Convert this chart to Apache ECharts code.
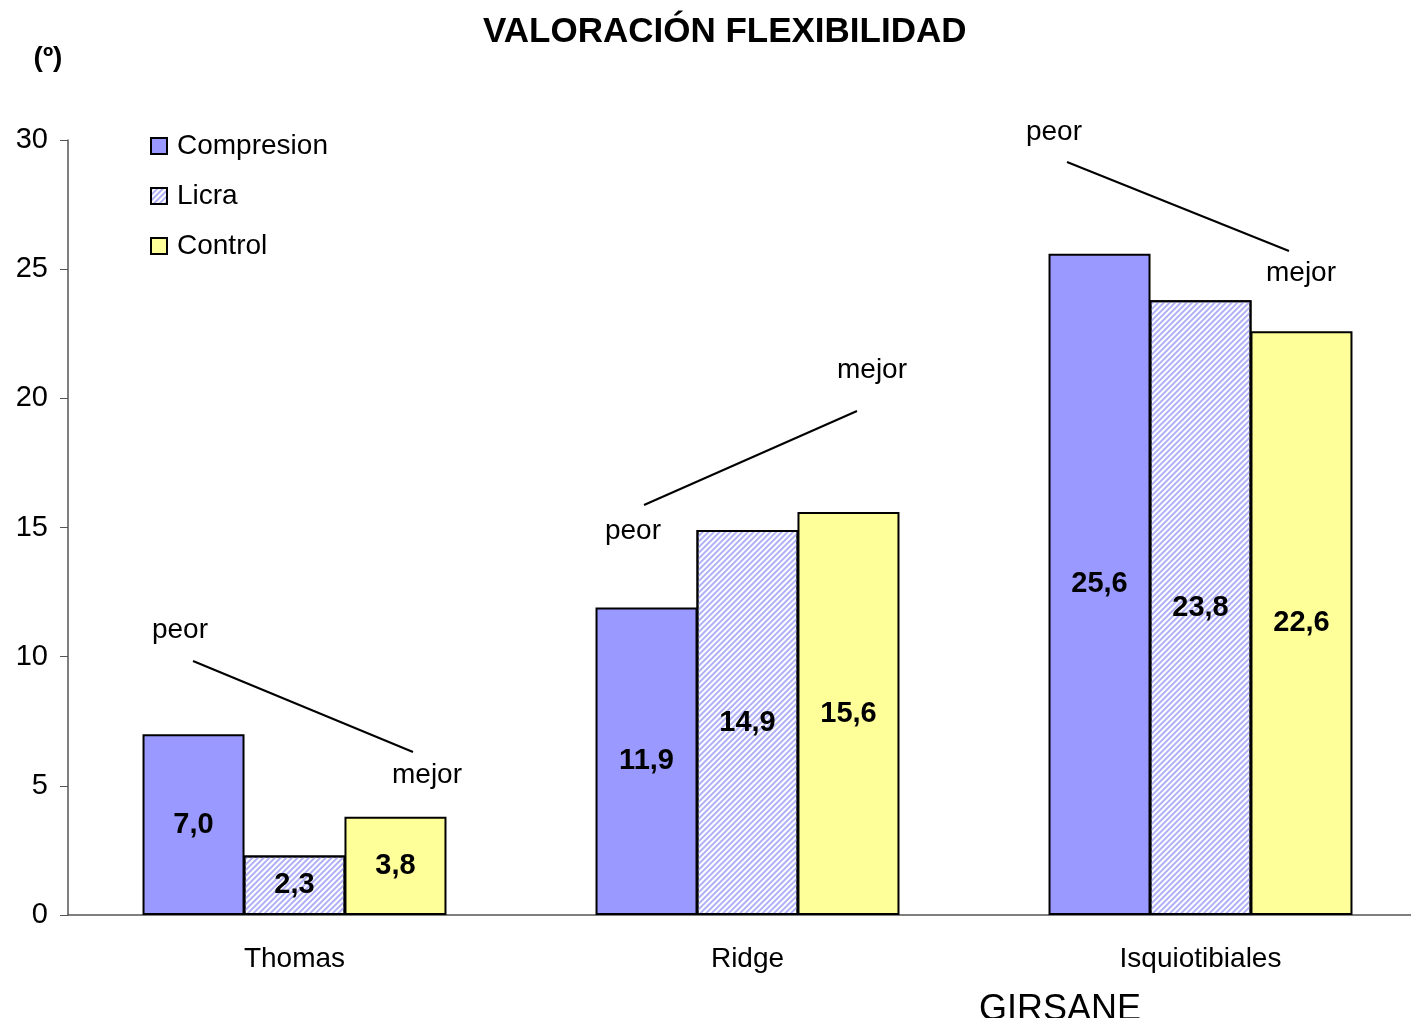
<!DOCTYPE html>
<html>
<head>
<meta charset="utf-8">
<script src="https://cdn.jsdelivr.net/npm/echarts@6/dist/echarts.min.js"></script>
<style>
  html, body { margin: 0; padding: 0; background: #fff; }
  #chart { width: 1411px; height: 1018px; }
</style>
</head>
<body>
<div id="chart"></div>
<script>
const categories = ['Thomas', 'Ridge', 'Isquiotibiales']
const compresion = [7.0, 11.9, 25.6]
const licra = [2.3, 14.9, 23.8]
const control = [3.8, 15.6, 22.6]
const yTicks = { min: 0, max: 30, interval: 5 }

const FONT = '"Liberation Sans", Arial, sans-serif'
const chart = echarts.init(document.getElementById('chart'))

function fmt(p) {
  return p.value.toFixed(1).replace('.', ',')
}

const label = {
  show: true, position: 'inside', formatter: fmt,
  color: '#000', fontFamily: FONT, fontWeight: 'bold', fontSize: 29
}

// "peor"/"mejor" annotations: text + connecting line
function note(text, x, y) {
  return { type: 'text', x: x, y: y, style: { text: text, font: '28px ' + FONT, fill: '#000', textAlign: 'center', textVerticalAlign: 'middle' } }
}
function seg(x1, y1, x2, y2) {
  return { type: 'line', shape: { x1: x1, y1: y1, x2: x2, y2: y2 }, style: { stroke: '#000', lineWidth: 2 } }
}

chart.setOption({
  animation: false,
  textStyle: { fontFamily: FONT },
  title: {
    text: 'VALORACIÓN FLEXIBILIDAD', left: 478, top: 10,
    textStyle: { fontSize: 35, fontWeight: 'bold', color: '#000', fontFamily: FONT }
  },
  legend: {
    orient: 'vertical', left: 145, top: 127, itemGap: 22,
    itemWidth: 16, itemHeight: 16, icon: 'rect',
    textStyle: { fontSize: 28, color: '#000', fontFamily: FONT, padding: [0, 0, 0, 5] },
    data: ['Compresion', 'Licra', 'Control']
  },
  grid: { left: 68, top: 140, bottom: 103, width: 1359, outerBoundsMode: 'none' },
  xAxis: {
    type: 'category', data: categories,
    axisLine: { lineStyle: { color: '#555', width: 1.5 } },
    axisTick: { length: 8, lineStyle: { color: '#555' } },
    axisLabel: { fontSize: 28, color: '#000', margin: 30, fontFamily: FONT }
  },
  yAxis: {
    type: 'value', min: yTicks.min, max: yTicks.max, interval: yTicks.interval,
    axisLine: { show: true, lineStyle: { color: '#555', width: 1.5 } },
    axisTick: { show: true, length: 8, lineStyle: { color: '#555' } },
    splitLine: { show: false },
    axisLabel: { fontSize: 29, color: '#000', margin: 20, fontFamily: FONT }
  },
  series: [
    {
      name: 'Compresion', type: 'bar', data: compresion, barWidth: 102, barGap: '-1%',
      itemStyle: { color: '#9999FF', borderColor: '#000', borderWidth: 2 },
      label: label
    },
    {
      name: 'Licra', type: 'bar', data: licra, barWidth: 102, barGap: '-1%',
      itemStyle: {
        color: '#FFFFFF', borderColor: '#000', borderWidth: 2,
        decal: { symbol: 'rect', color: '#B0B0F6', dashArrayX: [1, 0], dashArrayY: [1.5, 1.5], rotation: -Math.PI / 4 }
      },
      label: label
    },
    {
      name: 'Control', type: 'bar', data: control, barWidth: 102, barGap: '-1%',
      itemStyle: { color: '#FFFF99', borderColor: '#000', borderWidth: 2 },
      label: label
    }
  ],
  graphic: [
    { type: 'text', x: 48, y: 58, style: { text: '(º)', font: 'bold 28px ' + FONT, fill: '#000', textAlign: 'center', textVerticalAlign: 'middle' } },
    seg(193, 661, 413, 752), note('peor', 180, 630), note('mejor', 427, 775),
    seg(644, 505, 857, 411), note('peor', 633, 531), note('mejor', 872, 370),
    seg(1067, 162, 1289, 251), note('peor', 1054, 132), note('mejor', 1301, 273),
    { type: 'text', x: 1060, y: 1010, style: { text: 'GIRSANE', font: '36px ' + FONT, fill: '#000', textAlign: 'center', textVerticalAlign: 'middle' } }
  ]
})
</script>
</body>
</html>
